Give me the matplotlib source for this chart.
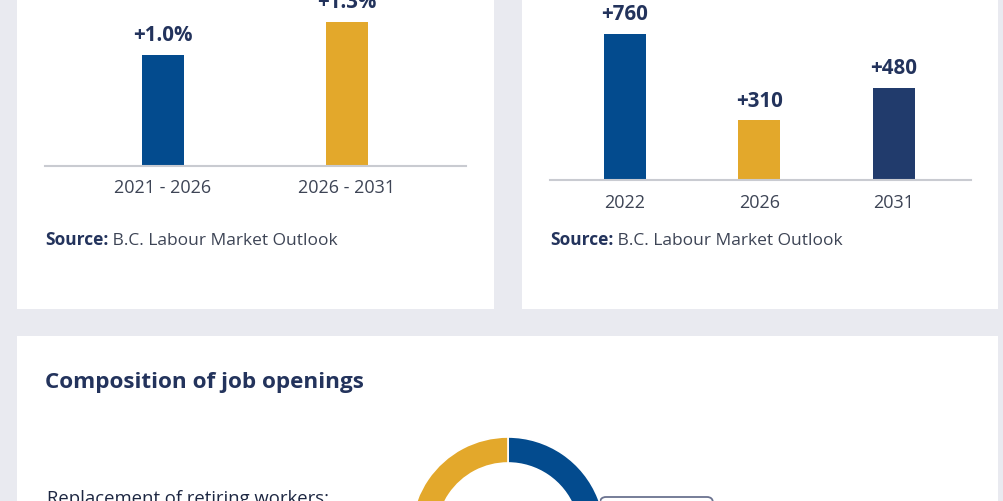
import matplotlib
matplotlib.use("Agg")
import matplotlib.pyplot as plt
from matplotlib.patches import Rectangle, FancyBboxPatch
from matplotlib.transforms import IdentityTransform

plt.rcParams['font.family'] = ['Open Sans', 'DejaVu Sans']

# ---------------- data ----------------
growth_periods = ["2021 - 2026", "2026 - 2031"]
growth_rates = [1.0, 1.3]            # % employment growth
growth_colors = ["#034b8e", "#e3a82b"]

opening_years = ["2022", "2026", "2031"]
opening_counts = [760, 310, 480]     # job openings
opening_colors = ["#034b8e", "#e3a82b", "#213b6c"]

composition_labels = ["Economic growth", "Replacement of retiring workers"]
composition_shares = [38, 62]
composition_colors = ["#034b8e", "#e3a82b"]

source_bold = "Source:"
source_text = " B.C. Labour Market Outlook"
bottom_title = "Composition of job openings"
left_label = "Replacement of retiring workers:"

W, H = 1004, 502
BG = "#e9eaf0"
NAVY = "#23335c"
TICK = "#3d4455"
AXIS = "#c9cbd1"

fig = plt.figure(figsize=(W / 100, H / 100), dpi=100)
fig.patch.set_facecolor(BG)


def fx(x):
    return x / W


def fy(y):
    return 1 - y / H


def panel(x0, y0, x1, y1):
    fig.add_artist(Rectangle((fx(x0), fy(y1)), fx(x1) - fx(x0), fy(y0) - fy(y1),
                             transform=fig.transFigure, facecolor="white",
                             edgecolor="none", zorder=-10))


panel(17, -20, 494, 310)
panel(522, -20, 998, 310)
panel(17, 337, 998, 560)


def bar_panel(x0, x1, base_y, px_per_unit, cats, vals, cols, first_center, spacing,
              fmt):
    ax = fig.add_axes([fx(x0), fy(base_y), (x1 - x0) / W, base_y / H])
    ax.patch.set_alpha(0)
    n = len(cats)
    left = -(first_center - x0) / spacing
    right = left + (x1 - x0) / spacing
    ax.set_xlim(left, right)
    ax.set_ylim(0, base_y / px_per_unit)
    ax.bar(range(n), vals, width=42 / spacing, color=cols, zorder=2)
    for s in ["top", "left", "right"]:
        ax.spines[s].set_visible(False)
    ax.spines["bottom"].set_color(AXIS)
    ax.spines["bottom"].set_linewidth(1.5)
    ax.set_yticks([])
    ax.set_xticks(range(n), cats, fontsize=13, color=TICK)
    ax.tick_params(axis="x", length=0, pad=9)
    for i, v in enumerate(vals):
        ax.annotate(fmt(v), xy=(i, v), xytext=(0, 10.6), textcoords="offset points",
                    ha="center", va="baseline", fontsize=14.8, fontweight="bold",
                    color=NAVY, annotation_clip=False, clip_on=False)
    return ax


bar_panel(45, 466, 167, 111.0, growth_periods, growth_rates, growth_colors, 163, 184,
          lambda v: f"+{v:.1f}%")
bar_panel(550, 971, 181, 146 / 760, opening_years, opening_counts, opening_colors, 625,
          134.5, lambda v: f"+{v:d}")

for sx in (45, 550):
    t = fig.text(fx(sx), fy(245), source_bold, fontsize=12.5, fontweight="bold",
                 color=NAVY, va="baseline")
    fig.add_artist(plt.Annotation(source_text, xy=(1, 0), xycoords=t, fontsize=12.5,
                                  color=TICK, va="bottom", annotation_clip=False))

# bottom panel
fig.text(fx(45), fy(388), bottom_title, fontsize=16.2, fontweight="bold", color=NAVY,
         va="baseline")
fig.text(fx(47), fy(504), left_label, fontsize=13.3, color="#1d2742", va="baseline")

# callout box
box = FancyBboxPatch((600, H - 560), 113, 62, boxstyle="round,pad=0,rounding_size=6",
                     transform=IdentityTransform(), facecolor="white",
                     edgecolor="#6b7390", linewidth=1.3, zorder=-5)
fig.add_artist(box)

# donut
cx, cy, R = 508, 535, 97
dax = fig.add_axes([fx(cx - 100), fy(cy + 100), 200 / W, 200 / H])
dax.pie(composition_shares, colors=composition_colors, startangle=90, counterclock=False,
        radius=0.97, wedgeprops=dict(width=0.26, edgecolor="white", linewidth=1.2))
dax.set_xlim(-1, 1)
dax.set_ylim(-1, 1)
dax.set_axis_off()

fig.savefig("out.png", dpi=100, facecolor=BG)
